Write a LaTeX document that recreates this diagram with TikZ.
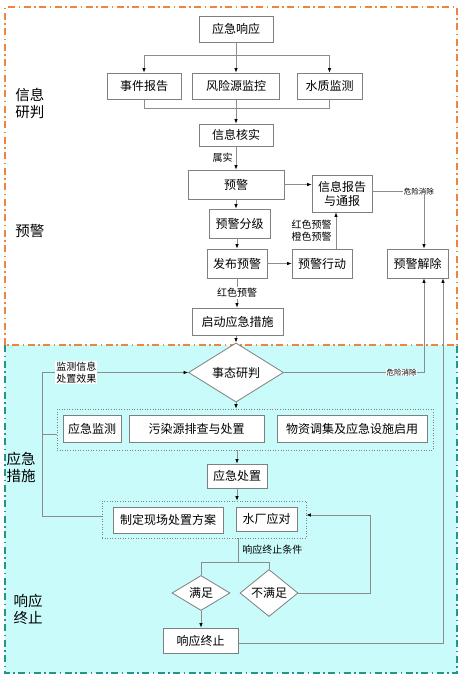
\documentclass[tikz,border=0pt]{standalone}
\usepackage{fontspec}
\newfontfamily\cjk{Noto Sans CJK SC}
\usetikzlibrary{positioning, shapes.geometric, arrows.meta}
\definecolor{linegray}{HTML}{8C8C8C}
\definecolor{boxgray}{HTML}{7F7F7F}
\definecolor{zoneorange}{HTML}{EE8440}
\definecolor{zoneteal}{HTML}{22968A}
\definecolor{zonecyan}{HTML}{C9FBFB}

\begin{document}
\begin{tikzpicture}[x=1pt, y=-1pt, font=\cjk\fontsize{12}{14}\selectfont,
    bx/.style={draw=boxgray, fill=white, line width=0.8pt, inner sep=0, minimum height=26pt},
    dm/.style={diamond, draw=boxgray, fill=white, line width=0.8pt, inner sep=0},
    grp/.style={draw=boxgray, dotted, line width=0.6pt},
    ln/.style={draw=linegray, line width=0.7pt},
    ar/.style={ln, -{Latex[length=4.5pt, width=3.5pt, color=black]}},
    lb/.style={font=\cjk\fontsize{10}{12}\selectfont, inner sep=1pt},
    sml/.style={font=\cjk\fontsize{7.5}{9}\selectfont, inner sep=0.5pt, fill=white},
    zone/.style={font=\cjk\fontsize{14.5}{17}\selectfont, align=left, inner sep=0},
    zoneline/.style={line width=1.8pt, dash pattern=on 7pt off 3.5pt on 1.5pt off 3.5pt}]
    \useasboundingbox (0,0) rectangle (468,683);

    % zones
    \fill[zonecyan] (5,345) rectangle (457,673);
    \draw[zoneteal, zoneline] (5,345) -- (5,673) -- (457,673) -- (457,345);
    \draw[zoneorange, zoneline] (5,345) -- (5,7) -- (457,7) -- (457,345) -- cycle;
    \node[zone] (zxx) at (30,103) {信息\\研判};
    \node[zone] (zyj) at (30,231) {预警};
    \node[zone] (zcs) at (21,467) {应急\\措施};
    \node[zone] (zzz) at (28,609) {响应\\终止};

    % information
    \node[bx, minimum width=74pt] (yjxy) at (236,29) {应急响应};
    \node[bx, minimum width=74pt] (sjbg) at (144,86) {事件报告};
    \node[bx, minimum width=87pt] (fxjk) at (236,86) {风险源监控};
    \node[bx, minimum width=65pt] (szjc) at (329.5,86) {水质监测};
    \node[bx, minimum width=74pt, minimum height=22pt] (xxhs) at (236,135) {信息核实};
    \coordinate (spl) at (236,55);
    \coordinate (mrg) at (236,108);
    \draw[ln] (yjxy) -- (spl);
    \draw[ar] (spl) -| (sjbg);
    \draw[ar] (spl) -- (fxjk);
    \draw[ar] (spl) -| (szjc);
    \draw[ln] (sjbg) |- (mrg);
    \draw[ln] (szjc) |- (mrg);
    \draw[ln] (fxjk) -- (mrg);
    \draw[ar] (mrg) -- (xxhs);

    % warning
    \node[bx, minimum width=96pt, minimum height=29pt] (yj) at (236,184.5) {预警};
    \node[bx, minimum width=60pt, minimum height=37pt, align=center] (xxbg) at (342,193.5) {信息报告\\与通报};
    \node[bx, minimum width=61pt, minimum height=29pt] (yjfj) at (239.5,223.5) {预警分级};
    \node[bx, minimum width=60pt, minimum height=29pt] (fbyj) at (237,263.5) {发布预警};
    \node[bx, minimum width=60pt, minimum height=29pt] (yjxd) at (322,263.5) {预警行动};
    \node[bx, minimum width=61pt, minimum height=29pt] (yjjc) at (417.5,263.5) {预警解除};
    \node[bx, minimum width=91pt, minimum height=27pt] (qdcs) at (237.5,321.5) {启动应急措施};
    \coordinate (jca) at (424,191.5);
    \draw[ar] (xxhs) -- node[lb, left=2pt] {属实} (yj);
    \draw[ar] (yj.east) -- (yj.east -| xxbg.west);
    \draw[ar] (yj.south) -- (yj.south |- yjfj.north);
    \draw[ar] (yjfj.south -| fbyj) -- (fbyj);
    \draw[ar] (fbyj) -- (yjxd);
    \draw[ar] ([xshift=14pt]yjxd.north) -- node[lb, left=3pt, align=center] {红色预警\\橙色预警}
        ([xshift=14pt]yjxd.north |- xxbg.south);
    \draw[ar] (xxbg.east |- jca) -- node[sml, pos=0.9] {危险消除} (jca) -- (jca |- yjjc.north);
    \draw[ar] (fbyj) -- node[lb, fill=white] {红色预警} (fbyj |- qdcs.north);

    % measures
    \node[dm, minimum width=95pt, minimum height=39pt] (stpy) at (236,372.5) {事态研判};
    \node[grp, minimum width=376pt, minimum height=41pt] (grpa) at (245,429.5) {};
    \node[bx, minimum width=58pt, minimum height=27pt] (yjjz) at (92,428.5) {应急监测};
    \node[bx, minimum width=135pt, minimum height=27pt] (wryc) at (196.5,428.5) {污染源排查与处置};
    \node[bx, minimum width=150pt, minimum height=27pt] (wzdj) at (352,428.5) {物资调集及应急设施启用};
    \node[bx, minimum width=60pt, minimum height=24pt] (yjcz) at (237,476) {应急处置};
    \node[grp, minimum width=204pt, minimum height=37pt] (grpb) at (204,519.5) {};
    \node[bx, minimum width=110pt, minimum height=26pt] (zdfa) at (168,520) {制定现场处置方案};
    \node[bx, minimum width=61pt, minimum height=24pt] (scyd) at (266.5,519) {水厂应对};
    \draw[ar] (qdcs.south -| stpy) -- (stpy);
    \coordinate (lpa) at (42,372.5);
    \coordinate (lpb) at (42,434);
    \coordinate (lpc) at (42,516);
    \draw[ar] (lpc) -- (lpa) -- node[lb, fill=white, align=center, pos=0.235] {监测信息\\处置效果} (stpy);
    \draw[ln] (grpa.west |- lpb) -- (lpb);
    \draw[ln] (grpb.west |- lpc) -- (lpc);
    \coordinate (rpa) at (424,372.5);
    \draw[ar] (stpy) -- node[sml, pos=0.84] {危险消除} (rpa) -- (rpa |- yjjc.south);
    \draw[ar] (stpy.south) -- (stpy.south |- grpa.north);
    \draw[ar] (grpa.south -| yjcz) -- (yjcz);
    \draw[ar] (yjcz) -- (yjcz |- grpb.north);

    % termination
    \node[dm, minimum width=58pt, minimum height=30pt] (mz) at (201,593) {满足};
    \node[dm, minimum width=58pt, minimum height=30pt] (bmz) at (269,593) {不满足};
    \node[bx, minimum width=75pt, minimum height=25pt] (xyzz) at (200.5,640.5) {响应终止};
    \coordinate (cnd) at (238,562);
    \draw[ln] (grpb.south -| cnd) -- node[lb, right=3pt] {响应终止条件} (cnd);
    \draw[ln] (cnd) -| (mz);
    \draw[ln] (cnd) -| (bmz);
    \draw[ar] (mz) -- (mz |- xyzz.north);
    \coordinate (nfb) at (370,515);
    \draw[ar] (bmz) -| (nfb) -- (grpb.east |- nfb);
    \coordinate (rpb) at (443,643);
    \draw[ar] (xyzz.east |- rpb) -- (rpb) -- (rpb |- yjjc.south);
\end{tikzpicture}
\end{document}
